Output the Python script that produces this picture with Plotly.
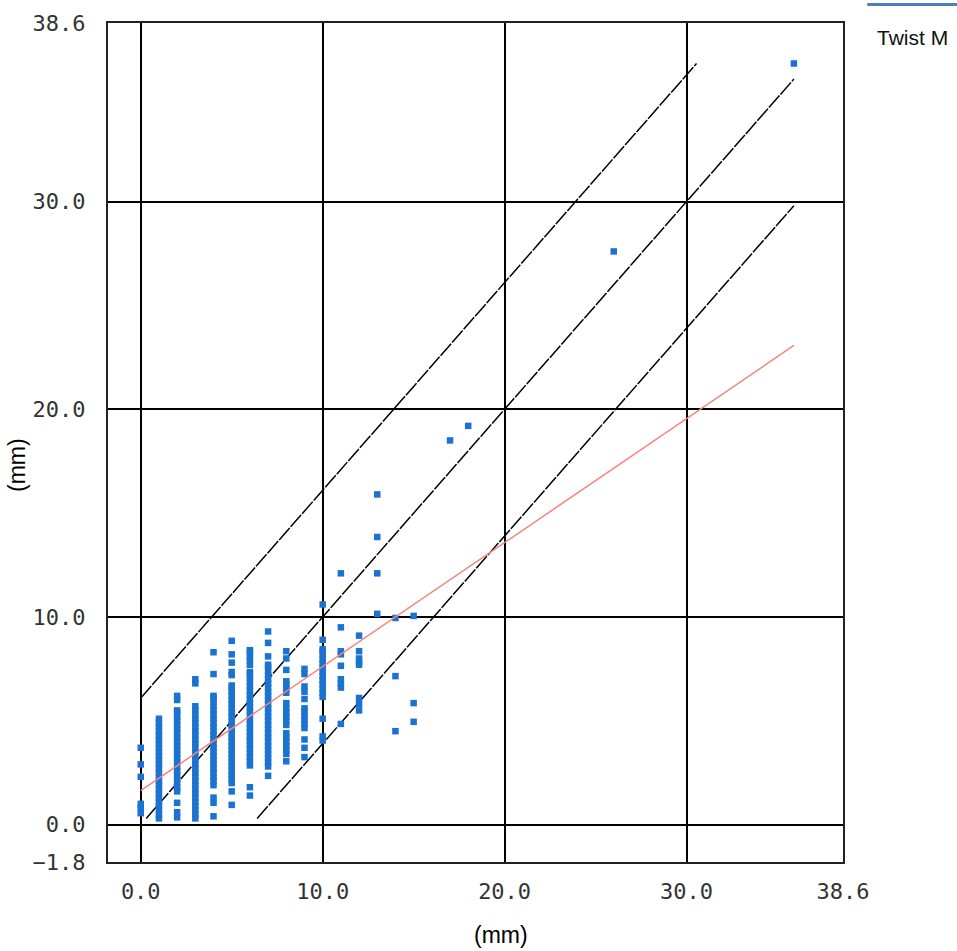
import plotly.graph_objects as go

# ---------------- data ----------------
col_x = [0, 1, 2, 3, 4, 5, 6, 7, 8, 9, 10, 11, 12, 13, 14, 15, 17, 18, 26, 35.9]
col_y = [
    [0.55, 0.8, 1.0, 2.3, 2.9, 3.7],
    [0.3, 0.5, 0.7, 0.9, 1.1, 1.3, 1.5, 1.7, 1.9, 2.1, 2.3, 2.5, 2.7, 2.9, 3.1, 3.3,
     3.5, 3.7, 3.9, 4.1, 4.3, 4.5, 4.7, 4.9, 5.1],
    [0.35, 0.6, 1.05, 1.6, 1.8, 2.0, 2.2, 2.4, 2.6, 2.8, 3.0, 3.2, 3.4, 3.6, 3.8, 4.0,
     4.2, 4.4, 4.6, 4.8, 5.0, 5.2, 5.4, 5.5, 6.0, 6.2],
    [0.3, 0.5, 0.7, 0.9, 1.1, 1.3, 1.5, 1.7, 1.9, 2.1, 2.3, 2.5, 2.7, 2.9, 3.1, 3.3,
     3.5, 3.7, 3.9, 4.1, 4.3, 4.5, 4.7, 4.9, 5.1, 5.3, 5.5, 5.7, 6.8, 7.0],
    [0.4, 1.05, 1.3, 1.9, 2.1, 2.3, 2.5, 2.7, 2.9, 3.1, 3.3, 3.5, 3.7, 3.9, 4.1, 4.3,
     4.5, 4.7, 4.9, 5.1, 5.3, 5.5, 5.7, 5.9, 6.1, 6.2, 7.25, 8.3],
    [0.95, 1.6, 2.0, 2.2, 2.4, 2.6, 2.8, 3.0, 3.2, 3.4, 3.6, 3.8, 4.0, 4.2, 4.4, 4.6,
     4.8, 5.0, 5.2, 5.4, 5.6, 5.8, 6.0, 6.2, 6.4, 6.6, 6.7, 7.2, 7.35, 7.8, 8.2, 8.85],
    [1.4, 1.8, 2.85, 3.05, 3.25, 3.45, 3.65, 3.85, 4.05, 4.25, 4.45, 4.65, 4.85, 5.05,
     5.25, 5.45, 5.65, 5.85, 6.05, 6.25, 6.45, 6.65, 6.85, 7.05, 7.25, 7.35, 7.7, 7.9,
     8.1, 8.3, 8.4],
    [2.35, 2.8, 3.0, 3.2, 3.4, 3.6, 3.8, 4.0, 4.2, 4.4, 4.6, 4.8, 5.0, 5.2, 5.4, 5.6,
     5.8, 6.0, 6.2, 6.4, 6.6, 6.8, 7.0, 7.2, 7.4, 7.6, 7.7, 8.1, 8.75, 9.3],
    [3.05, 3.4, 3.6, 3.8, 4.0, 4.2, 4.4, 4.8, 5.0, 5.2, 5.4, 5.6, 5.85, 6.35, 6.55,
     6.75, 6.9, 7.45, 8.0, 8.35],
    [3.25, 3.7, 4.1, 4.65, 4.85, 5.05, 5.25, 5.45, 5.6, 6.05, 6.4, 6.65, 7.25, 7.5],
    [4.05, 4.25, 5.1, 6.15, 6.35, 6.55, 6.75, 6.95, 7.15, 7.35, 7.55, 7.75, 7.95,
     8.15, 8.35, 8.45, 8.9, 10.6],
    [4.85, 6.6, 6.8, 7.0, 7.65, 8.2, 8.35, 9.5, 12.1],
    [5.5, 5.8, 6.1, 7.7, 7.85, 8.0, 8.35, 9.1],
    [10.15, 12.1, 13.85, 15.9],
    [4.5, 7.15, 9.95],
    [4.95, 5.85, 10.05],
    [18.5],
    [19.2],
    [27.6],
    [36.65],
]

band_offset = 6.1          # +/- band around the 1:1 line
reg_intercept = 1.64       # red regression line
reg_slope = 0.597

x_ticks = [0.0, 10.0, 20.0, 30.0, 38.6]
y_ticks = [-1.8, 0.0, 10.0, 20.0, 30.0, 38.6]
x_range = [-1.8, 38.6]
y_range = [-1.8, 38.6]
series_name = "Twist M"
axis_title = "(mm)"

# ---------------- build ----------------
xs, ys = [], []
for cx, cy in zip(col_x, col_y):
    for v in cy:
        xs.append(cx)
        ys.append(v)

x_lo, x_hi = min(xs), max(xs)
y_lo, y_hi = min(ys), max(ys)

fig = go.Figure()

dash_style = dict(color="black", width=1.5, dash="16px,1.5px")
# upper band line y = x + off
fig.add_trace(go.Scatter(x=[x_lo, y_hi - band_offset], y=[x_lo + band_offset, y_hi],
                         mode="lines", line=dash_style, showlegend=False, hoverinfo="skip"))
# 1:1 line
a = max(x_lo, y_lo)
b = min(x_hi, y_hi)
fig.add_trace(go.Scatter(x=[a, b], y=[a, b], mode="lines", line=dash_style,
                         showlegend=False, hoverinfo="skip"))
# lower band line y = x - off
fig.add_trace(go.Scatter(x=[y_lo + band_offset, x_hi], y=[y_lo, x_hi - band_offset],
                         mode="lines", line=dash_style, showlegend=False, hoverinfo="skip"))

fig.add_trace(go.Scatter(x=xs, y=ys, mode="markers", name=series_name,
                         marker=dict(symbol="square", size=6.5, color="#1a73d0",
                                     line=dict(width=0)),
                         showlegend=False))

fig.add_trace(go.Scatter(x=[x_lo, x_hi],
                         y=[reg_intercept + reg_slope * x_lo, reg_intercept + reg_slope * x_hi],
                         mode="lines", line=dict(color="#f4847c", width=1.5),
                         showlegend=False, hoverinfo="skip"))

tick_font = dict(family="DejaVu Sans Mono", size=22, color="#333333")
fig.update_xaxes(range=x_range, tickvals=x_ticks, ticktext=[f"{v:.1f}" for v in x_ticks],
                 showgrid=True, gridcolor="black", gridwidth=2, zeroline=False,
                 showline=True, mirror=True, linecolor="#222", linewidth=2,
                 ticks="", tickfont=tick_font, ticklabelstandoff=9)
fig.update_yaxes(range=y_range, tickvals=y_ticks, ticktext=[f"{v:.1f}".replace("-", "\u2212") for v in y_ticks],
                 showgrid=True, gridcolor="black", gridwidth=2, zeroline=False,
                 showline=True, mirror=True, linecolor="#222", linewidth=2,
                 ticks="", tickfont=tick_font, ticklabelstandoff=16)

title_font = dict(family="Liberation Sans", size=23, color="black")
fig.add_annotation(text=axis_title, xref="paper", yref="paper", x=0.535, y=-0.087,
                   showarrow=False, font=title_font, xanchor="center", yanchor="middle")
fig.add_annotation(text=axis_title, xref="paper", yref="paper", x=-0.124, y=0.473,
                   showarrow=False, font=title_font, textangle=-90,
                   xanchor="center", yanchor="middle")

# legend (drawn manually: line above text)
fig.add_shape(type="line", xref="paper", yref="paper", x0=1.033, x1=1.16, y0=1.022, y1=1.022,
              line=dict(color="#4a7ebf", width=3))
fig.add_annotation(text=series_name, xref="paper", yref="paper", x=1.044, y=0.983,
                   showarrow=False, xanchor="left", yanchor="middle",
                   font=dict(family="Liberation Sans", size=21, color="#111"))

fig.update_layout(width=957, height=951, margin=dict(l=108, r=114, t=23, b=89),
                  plot_bgcolor="white", paper_bgcolor="white", showlegend=False)

fig.write_html("out.html")
